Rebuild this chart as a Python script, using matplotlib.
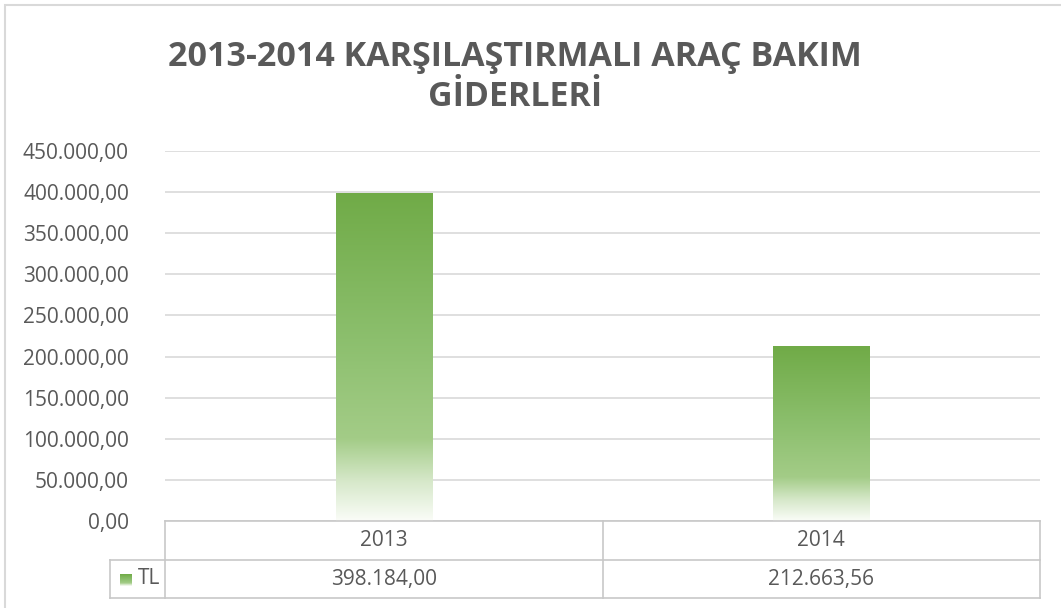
import numpy as np
import matplotlib
matplotlib.use('Agg')
import matplotlib.pyplot as plt
from matplotlib.colors import LinearSegmentedColormap
from matplotlib.patches import Rectangle
from matplotlib.transforms import blended_transform_factory

# data
years = ['2013', '2014']
values = [398184.00, 212663.56]
series_name = 'TL'
y_ticks = [0, 50000, 100000, 150000, 200000, 250000, 300000, 350000, 400000, 450000]
title = '2013-2014 KARŞILAŞTIRMALI ARAÇ BAKIM\nGİDERLERİ'

text_col = '#595959'
grid_col = '#d9d9d9'
line_col = '#c8c8c8'

plt.rcParams['font.family'] = ['Open Sans', 'DejaVu Sans']


def tr_fmt(v):
    # Turkish number format: 398.184,00
    s = f'{v:,.2f}'
    return s.replace(',', '#').replace('.', ',').replace('#', '.')


# gradient: bottom white -> top green
grad = LinearSegmentedColormap.from_list('g', [
    (0.00, (0.98, 0.99, 0.97)),
    (0.12, (0.84, 0.91, 0.79)),
    (0.25, (0.64, 0.80, 0.53)),
    (0.55, (0.55, 0.75, 0.43)),
    (1.00, (0.44, 0.67, 0.28)),
])

W, H = 1061, 608
fig = plt.figure(figsize=(W / 100, H / 100), dpi=100)
ax = fig.add_axes([165 / W, (H - 521) / H, 875 / W, 370 / H])

x = np.arange(len(years))
bars = ax.bar(x, values, width=0.22, color='none', zorder=2)
ramp = np.linspace(0, 1, 256).reshape(-1, 1)
for b in bars:
    x0, w, h = b.get_x(), b.get_width(), b.get_height()
    ax.imshow(ramp, cmap=grad, origin='lower', aspect='auto',
              extent=[x0, x0 + w, 0, h], zorder=2, interpolation='bilinear')

ax.set_xlim(-0.5, len(years) - 0.5)
ax.set_ylim(0, 450000)
ax.set_yticks(y_ticks)
ax.set_yticklabels([tr_fmt(v) for v in y_ticks])
ax.set_xticks([])
ax.tick_params(axis='y', length=0, pad=26, labelsize=15, labelcolor=text_col)
ax.grid(axis='y', color=grid_col, lw=1.2, zorder=0)
ax.set_axisbelow(True)
for s in ax.spines.values():
    s.set_visible(False)

# data table under the axis
tr = blended_transform_factory(ax.transData, ax.transAxes)
r1 = -39 / 370
r2 = -77 / 370
lab_w = 55 / 437.5
left = -0.5
right = len(years) - 0.5
kw = dict(transform=tr, color=line_col, lw=1.2, clip_on=False)
ax.plot([left, right], [0, 0], **kw)
ax.plot([left - lab_w, right], [r1, r1], **kw)
ax.plot([left - lab_w, right], [r2, r2], **kw)
ax.plot([left - lab_w, left - lab_w], [r1, r2], **kw)
for i in range(len(years) + 1):
    ax.plot([left + i, left + i], [0, r2], **kw)
for i, (yr, v) in enumerate(zip(years, values)):
    ax.text(i, r1 / 2, yr, transform=tr, ha='center', va='center',
            fontsize=15, color=text_col)
    ax.text(i, (r1 + r2) / 2, tr_fmt(v), transform=tr, ha='center', va='center',
            fontsize=15, color=text_col)
ax.text(left - 0.012, (r1 + r2) / 2, series_name, transform=tr, ha='right',
        va='center', fontsize=15, color=text_col)
# legend key
ax.imshow(ramp, cmap=grad, origin='lower', aspect='auto',
          extent=[left - 0.103, left - 0.077, (r1 + r2) / 2 - 0.018, (r1 + r2) / 2 + 0.014],
          transform=tr, clip_on=False, zorder=3)
ax.set_xlim(-0.5, len(years) - 0.5)
ax.set_ylim(0, 450000)

# title
fig.text(515 / W, 1 - 77 / H, title, ha='center', va='center', fontsize=24.5,
         fontweight='bold', color=text_col, linespacing=1.2)

# chart frame
fig.add_artist(Rectangle((5 / W, -0.01), 1.1, 1 - 5 / H + 0.01, transform=fig.transFigure,
                         fill=False, edgecolor=grid_col, lw=1.5))

fig.savefig('out.png', dpi=100)
